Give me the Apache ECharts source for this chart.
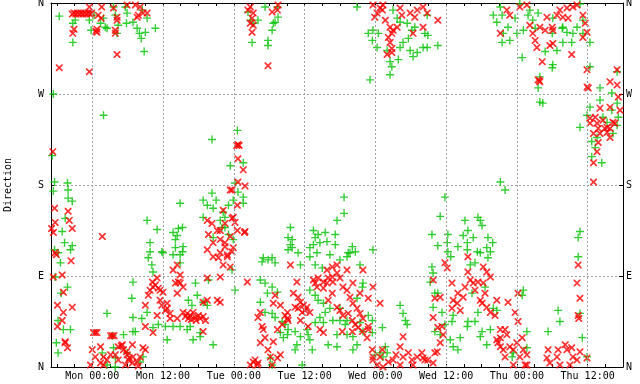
<!DOCTYPE html>
<html><head><meta charset="utf-8">
<script src="https://cdn.jsdelivr.net/npm/echarts@6/dist/echarts.min.js"></script>
<style>html,body{margin:0;padding:0;background:#fff}#c{width:640px;height:384px}</style>
</head><body><div id="c"></div>
<script>
// Hours relative to Mon 00:00
const xTickLabels = ['Mon 00:00','Mon 12:00','Tue 00:00','Tue 12:00','Wed 00:00','Wed 12:00','Thu 00:00','Thu 12:00'];
const xLabelHours = [0,12,24,36,48,60,72,84];
const minorTickHours = [-6,-3,0,3,6,9,12,15,18,21,24,27,30,33,36,39,42,45,48,51,54,57,60,63,66,69,72,75,78,81,84,87];
const yLabels = ['N','E','S','W','N'];
const yTitle = 'Direction';

// [hour, degrees]
const greenData = [
[-6.6,270],[-6.8,209],[-6.4,183],[-6.6,174],[-4.2,182],[-4.1,175],[-4.1,167],[-3.4,164],[-4.6,147],[-5.1,134],[-4.7,123],[-3.4,120],[-6.4,116],[-3.7,116],[-5.8,113],[-5.4,103],[-6.3,89],[-4.2,79],[-5.3,73],[-5.8,46],[-4.9,37],[-3.7,37],[-6.1,24],[-5.8,14],
[-5.6,347],[-3.3,340],[-3.3,321],[-2.9,343],[-0.5,343],[-0.2,333],[0.3,348],[1.4,340],[2.2,336],[2.5,335],[1.9,345],[3.9,348],[3.6,356],[4.4,338],[4.2,330],[1.9,249],[5.6,356],[5.9,350],[5.8,340],[6.9,341],[7.6,335],[8.0,330],[8.3,325],[9.0,331],[8.8,312],[10.7,335],[9.3,345],[8.5,353],
[1.7,14],[2.5,2],[3.9,0],[3.6,19],[5.3,32],[5.9,14],[6.9,35],[8.1,5],[3.9,9],[8.6,10],[3.4,31],
[9.3,145],[11.0,136],[14.9,162],[14.6,137],[15.3,138],[13.7,133],[14.1,126],[14.4,130],[9.8,123],[9.8,114],[11.8,114],[12.0,113],[14.1,118],[15.4,119],[14.9,111],[9.5,108],[10.1,101],[10.3,94],[13.7,111],[14.9,103],[15.3,114],[6.9,84],[6.7,68],[2.5,53],[6.9,49],[8.4,48],[7.3,35],[9.3,54],[10.3,39],[12.7,27],[11.2,42],[12.4,40],[13.7,40],[14.9,40],[16.6,40],[16.1,37],[18.3,34],[20.5,22],[17.1,27],[17.5,83],[17.8,71],[16.3,66],[18.8,64],[19.5,61],[16.9,61],
[18.8,165],[20.3,225],[20.3,172],[19.5,160],[21.0,165],[20.5,157],[18.8,148],[22.2,153],[22.5,148],[24.2,182],[23.4,199],[24.6,234],[25.6,202],[25.6,168],[25.6,162],[23.9,165],[23.1,160],[22.0,138],[23.9,126],[24.7,173],[21.7,145],[22.5,138],[20.5,128],[23.1,131],[19.7,86],[23.7,96],[24.2,76],[18.3,30],
[26.4,351],[26.8,343],[27.3,340],[27.1,321],[28.1,343],[29.3,356],[31.5,346],[30.7,340],[30.5,333],[29.8,323],[29.8,318],[31.0,341],[31.4,356],
[30.2,9],[30.5,2],
[28.8,104],[29.8,106],[30.5,108],[31.0,103],[28.5,86],[29.3,83],[29.7,73],[30.5,79],[31.4,74],[28.5,64],[29.3,54],[30.5,53],[31.0,49],[32.2,45],[32.7,42],[31.9,34],[33.1,32],[32.4,29],[34.4,35],[34.7,22],[33.2,37],[35.3,30],[36.6,32],[36.9,27],[36.4,37],[37.3,17],[37.8,44],[39.2,44],[39.5,54],[39.2,63],[40.3,58],[40.0,22],[41.5,20],[42.0,46],[42.9,42],[43.2,32],[44.2,30],[44.9,22],[45.4,44],[45.9,35],[37.8,71],[38.3,66],[36.9,76],[35.3,101],[34.9,113],[36.9,109],[37.8,101],[39.0,98],[40.3,111],[42.0,106],[43.2,109],[43.7,113],[45.4,101],[45.9,83],[45.8,79],[44.9,68],[46.8,51],[47.5,46],[47.6,116],[33.2,116],[35.6,2],[34.4,17],[38.6,49],[40.8,46],[42.0,58],[43.2,46],[41.5,32],[44.2,17],[47.5,34],[49.2,39],[48.8,14],[50.0,14],[49.7,20],[33.6,138],[33.2,128],[33.9,126],[33.6,121],[33.9,118],[37.5,135],[37.8,128],[38.3,131],[37.5,121],[36.9,118],[38.6,123],[39.5,133],[41.2,131],[41.5,145],[42.7,168],[42.7,152],[41.2,121],[39.8,124],[44.1,119],[44.6,114],[43.4,113],[38.1,113],[29.0,108],
[44.9,356],[46.8,330],[47.6,333],[48.5,330],[47.5,323],[48.3,316],[50.0,313],[50.5,302],[50.8,297],[50.5,289],[47.1,284],[51.9,304],[52.2,316],[52.7,321],[53.9,313],[54.4,307],[55.1,311],[52.2,341],[53.4,340],[54.2,333],[51.0,353],[51.7,345],[53.6,325],[54.7,336],[56.8,348],[56.4,330],[56.9,328],[56.1,316],[58.6,318],[56.8,316],
[49.3,10],[48.0,12],[52.2,61],[53.1,46],[52.7,53],[53.4,42],
[69.2,183],[70.0,175],[59.8,168],[59.0,149],[57.6,131],[58.6,120],[60.3,131],[60.2,123],[60.3,114],[63.2,145],[65.4,148],[65.8,145],[66.1,140],[63.7,135],[62.9,130],[64.6,128],[63.6,123],[62.0,119],[63.6,116],[65.3,114],[67.1,128],[67.9,123],[66.9,118],[67.5,114],[65.8,113],[60.8,109],[57.6,99],[57.8,93],[57.3,84],[58.1,73],[58.6,73],[57.8,59],[59.3,54],[58.1,35],[59.0,32],[59.8,42],[61.2,51],[61.0,45],[62.4,29],[61.2,20],[62.0,17],[63.6,40],[63.7,45],[64.9,45],[66.1,35],[65.8,30],[66.9,22],[67.5,37],[64.4,73],[66.6,79],[65.4,54],[68.0,58],[68.6,56],[64.1,101],[64.9,103],[67.1,108],[60.7,27],[73.1,76],[72.9,71],[73.7,35],[73.7,19],[71.4,14],[71.2,10],
[69.2,356],[68.0,348],[69.5,348],[68.6,341],[70.5,336],[69.7,330],[69.5,321],[70.8,323],[72.0,330],[72.5,359],[71.7,345],[74.2,353],[73.9,348],[74.7,343],[75.6,350],[75.1,335],[73.1,333],[72.9,306],[75.9,287],[75.6,276],[75.9,262],[76.4,261],[76.8,312],[78.1,299],[78.0,296],[78.8,313],[79.8,321],[79.7,335],[80.5,331],[81.3,321],[81.5,330],[82.2,336],[83.2,343],[83.2,330],[84.4,321],[82.7,359],[78.1,345],[78.0,330],[79.8,336],[84.4,297],
[77.3,35],[79.0,56],[79.3,45],[83.1,29],[83.9,10],[82.4,109],[82.7,53],[82.7,134],[82.4,128],
[89.0,292],[86.1,276],[88.1,271],[89.0,261],[86.1,264],[84.4,257],[83.9,249],[86.6,247],[88.1,254],[87.3,242],[89.2,247],[82.7,237],[84.7,223],[85.3,217],[84.7,208],[86.4,202],[88.3,231],[89.0,239],[85.6,227]
];

const redData = [
[-5.6,296],[-6.7,213],[-6.4,157],[-4.1,154],[-6.3,143],[-3.9,145],[-3.4,137],[-6.9,137],[-6.6,133],[-6.1,111],[-6.3,113],[-3.6,105],[-5.1,91],[-6.6,89],[-4.9,74],[-5.9,61],[-3.4,59],[-4.9,54],[-5.1,46],[-5.9,40],[-4.6,25],[-4.2,19],[-4.6,24],
[-3.4,349],[-3.1,350],[-2.8,349],[-2.5,350],[-2.2,349],[-1.9,350],[-1.6,349],[-1.3,350],[-1.0,349],[-0.7,350],[-0.4,349],[-0.1,350],
[-3.1,334],[-3.3,330],[-0.5,356],[0.8,331],[1.0,348],[1.6,356],[1.5,345],[0.8,334],[0.6,332],[3.9,333],[4.2,343],[4.2,346],[3.9,330],[3.6,355],[4.2,309],[-0.5,292],[5.9,358],[7.3,358],[8.1,356],[7.8,348],[8.6,350],[9.3,350],[7.6,346],
[0.2,34],[0.5,34],[0.8,34],[3.1,31],[3.4,31],[3.7,31],[1.4,20],[0,17],[0.5,10],[-0.3,2],[1.9,10],[2.5,7],[3.1,12],[3.9,12],[4.4,20],[5.1,22],[4.9,21],[5.3,17],[5.9,12],[6.1,7],[6.8,4],[6.9,10],[7.6,5],[8.1,10],[8.6,19],[9.0,17],[6.8,22],[5.6,2],[7.8,1],[4.4,7],[1.4,4],[1.9,2],[6.3,9],[5.8,15],[1.7,129],
[10.2,84],[10.3,79],[11.2,78],[11.0,88],[12.0,74],[14.9,91],[14.6,84],[14.1,83],[14.4,101],[13.7,96],[15.4,79],[11.5,66],[12.4,56],[13.2,48],[9.0,40],[10.3,34],[11.0,51],[12.7,58],[13.2,53],[14.4,48],[18.8,35],[19.5,66],[21.2,66],[14.9,83],[14.4,73],[12.7,63],[9.8,76],[9.5,71],[10.7,81],[11.5,76],[11.8,61],[9.0,61],
[15.4,54],[16.1,53],[16.6,51],[17.1,54],[17.5,49],[18.0,51],[18.3,48],[18.8,50],[16.3,48],[17.6,46],[15.8,50],[16.8,47],
[24.5,219],[24.7,220],[24.9,219],[24.7,206],[25.6,195],[24.7,183],[25.9,179],[23.7,175],[24.6,160],[22.2,155],[23.9,148],[23.7,147],[24.2,143],[22.5,142],[24.6,135],[25.9,134],[25.8,133],[23.4,129],[21.7,135],[22.5,123],[23.9,118],[22.9,111],[19.5,145],[20.3,142],[21.2,135],[19.7,131],[21.7,126],[20.5,123],[22.5,119],[19.5,116],[21.7,113],[20.5,109],[21.4,108],[22.9,109],[22.2,101],[23.4,99],[23.7,114],[19.5,88],[21.7,89],[18.8,64],[19.2,46],[21.7,64],[23.4,175],[26.3,84],
[26.8,356],[27.3,350],[27.1,345],[26.8,340],[27.1,331],[27.3,338],[26.4,353],[31.5,358],[30.5,351],[31.4,353],[29.8,298],
[27.3,5],[26.8,2],[27.6,7],[28.1,4],[28.0,2],[29.8,17],[30.2,10],[30.5,2],[31.4,9],[31.9,12],[30.7,25],
[28.5,54],[28.1,49],[28.8,40],[29.0,37],[29.3,29],[28.5,24],[31.0,71],[30.7,63],[31.9,61],[32.7,51],[33.1,48],[33.2,46],[32.2,42],[31.4,37],[33.6,101],[34.7,84],[34.1,73],[34.9,69],[35.3,64],[35.8,61],[36.4,59],[36.1,56],[35.6,54],[36.9,54],[35.3,46],[36.6,40],[33.1,54],[34.4,59],[34.9,58],[37.5,86],[37.8,83],[38.3,88],[38.1,79],[39.2,84],[40.0,88],[40.7,89],[39.8,83],[39.2,78],[40.8,84],[41.5,93],[42.0,88],[42.5,79],[43.2,76],[43.7,69],[44.2,63],[44.9,58],[45.4,53],[45.9,48],[46.8,40],[46.8,37],[40.7,73],[40.0,66],[41.5,59],[42.0,56],[42.5,51],[43.4,53],[44.1,46],[44.6,42],[45.1,39],[45.8,35],[46.6,29],[47.5,17],[47.6,10],[48.3,2],[38.6,37],[39.2,34],[42.4,35],[44.1,35],[48.8,63],[44.2,83],[45.4,73],[46.8,68],[47.6,79],[39.8,96],[40.7,99],[41.5,101],[43.2,96],[45.9,96],
[47.6,358],[48.3,350],[47.9,346],[49.3,358],[49.2,353],[49.7,343],[50.5,336],[50.8,330],[50.2,326],[50.5,321],[50.8,315],[51.0,333],[51.7,336],[52.2,355],[52.5,348],[53.9,350],[54.7,346],[55.1,353],[54.4,330],[50.0,309],[50.8,311],[56.1,356],[56.8,350],[58.6,343],[56.1,336],[48.8,355],
[48.8,10],[49.3,0],[47.6,7],[49.2,17],[52.2,20],[52.7,10],[53.6,14],[54.2,7],[55.1,10],[54.4,2],[52.2,2],[52.7,30],[51.0,7],[56.1,9],[56.9,7],[58.5,15],[57.8,4],[56.4,7],[55.9,14],[58.1,14],[50.2,5],[51.5,12],
[63.7,109],[57.8,86],[58.1,68],[59.0,69],[57.8,49],[58.6,39],[59.3,40],[59.5,32],[59.0,24],[59.8,103],[60.2,98],[61.0,83],[61.2,66],[61.9,63],[62.4,56],[61.0,58],[62.9,69],[62.0,73],[63.7,94],[64.1,86],[64.6,83],[65.4,84],[66.3,83],[66.3,99],[66.9,94],[67.5,89],[66.6,73],[66.1,63],[66.9,59],[67.5,54],[68.3,51],[69.2,37],[68.6,27],[69.2,20],[69.7,17],[70.3,32],[70.5,64],[68.6,66],[68.8,24],[70.0,10],[71.4,2],[72.2,73],[71.7,54],[72.2,45],[72.9,29],[73.1,17],[73.7,12],[73.7,2],[69.2,29],[70.0,37],[70.8,20],[72.5,10],[73.4,2],[72.0,24],[71.4,17],[63.2,79],[64.9,76],[65.8,66],
[70.3,353],[70.8,348],[72.5,356],[73.7,358],[69.2,330],[74.2,338],[74.7,330],[75.1,323],[75.4,316],[75.9,336],[76.3,302],[77.1,346],[78.0,336],[78.1,333],[78.8,348],[79.3,353],[79.8,346],[80.5,355],[80.7,345],[81.5,356],[82.2,358],[83.2,348],[83.6,340],[81.3,309],[78.1,320],[75.6,284],[75.9,282],[75.8,283],[83.9,294],[84.1,276],[83.9,277],[83.2,326],[83.9,331],[76.8,333],[77.6,318],
[77.1,9],[77.6,4],[77.3,17],[79.0,17],[78.8,10],[80.2,22],[80.5,17],[81.3,19],[81.5,10],[81.0,2],[82.2,7],[82.7,15],[83.9,9],[79.3,2],[82.4,101],[82.2,83],[82.7,68],[82.5,48],[82.4,51],
[89.0,294],[87.8,282],[89.0,279],[89.2,267],[87.8,257],[86.1,256],[85.3,247],[85.6,241],[86.6,244],[87.3,237],[88.6,241],[84.4,246],[84.4,241],[87.8,236],[86.1,231],[87.3,232],[85.0,231],[88.3,242],[85.8,222],[85.6,213],[85.0,202],[85.0,183],[87.8,227],[86.9,236],[85.8,236],[89.5,254]
];

const FONT = 'DejaVu Sans Mono';
const plusPath = 'path://M0,2.9H7V4.1H0Z M2.9,0H4.1V7H2.9Z';
const crossPath = 'path://M0,0H1.2L7,5.8V7H5.8L0,1.2Z M5.8,0H7V1.2L1.2,7H0V5.8Z';
const labelMap = {};
xLabelHours.forEach((h, i) => { labelMap[h] = xTickLabels[i]; });
const gridStyle = { color: '#a0a0a0', width: 1, type: [2, 2] };
const blackLine = { show: true, onZero: false, lineStyle: { color: '#000', width: 1 } };

const chart = echarts.init(document.getElementById('c'), null, { renderer: 'canvas' });
chart.setOption({
  animation: false,
  backgroundColor: '#fff',
  grid: { left: 51, top: 3, width: 572, height: 364, containLabel: false, outerBoundsMode: 'none' },
  xAxis: [
    { type: 'value', min: -7, max: 90, position: 'bottom',
      axisLine: blackLine,
      axisTick: { show: true, inside: true, length: 3, customValues: minorTickHours, lineStyle: { color: '#000' } },
      axisLabel: { customValues: xLabelHours, formatter: v => labelMap[v] || '', color: '#000', fontFamily: FONT, fontSize: 10, margin: 4 },
      splitLine: { show: false } },
    { type: 'value', min: -7, max: 90, position: 'top',
      axisLine: blackLine,
      axisTick: { show: true, inside: true, length: 3, customValues: minorTickHours, lineStyle: { color: '#000' } },
      axisLabel: { show: false },
      splitLine: { show: false } }
  ],
  yAxis: [
    { type: 'value', min: 0, max: 360, interval: 90, position: 'left',
      name: yTitle, nameLocation: 'middle', nameGap: 38,
      nameTextStyle: { color: '#000', fontFamily: FONT, fontSize: 10 },
      axisLine: blackLine,
      axisTick: { show: true, inside: true, length: 3, lineStyle: { color: '#000' } },
      axisLabel: { formatter: v => yLabels[Math.round(v / 90)], color: '#000', fontFamily: FONT, fontSize: 10, margin: 7 },
      splitLine: { show: true, lineStyle: gridStyle } },
    { type: 'value', min: 0, max: 360, interval: 90, position: 'right',
      axisLine: blackLine,
      axisTick: { show: true, inside: true, length: 4, lineStyle: { color: '#000' } },
      axisLabel: { formatter: v => yLabels[Math.round(v / 90)], color: '#000', fontFamily: FONT, fontSize: 10, margin: 3 },
      splitLine: { show: false } }
  ],
  series: [
    { type: 'scatter', data: [], z: 1, silent: true,
      markLine: { silent: true, symbol: ['none', 'none'], label: { show: false },
        lineStyle: gridStyle, animation: false,
        data: xLabelHours.map(h => ({ xAxis: h })) } },
    { type: 'scatter', name: 'green', data: greenData, symbol: plusPath, symbolSize: 8,
      itemStyle: { color: '#00c000' }, z: 2 },
    { type: 'scatter', name: 'red', data: redData, symbol: crossPath, symbolSize: 7,
      itemStyle: { color: '#ff0000' }, z: 3 }
  ]
});
</script>
</body></html>
